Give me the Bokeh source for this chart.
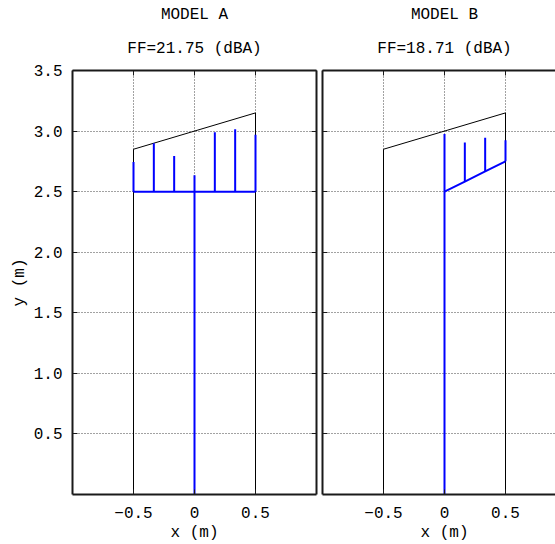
from bokeh.plotting import figure
from bokeh.models import FixedTicker, LinearAxis, Range1d, CustomLabelingPolicy
from bokeh.layouts import row
from bokeh.embed import file_html
from bokeh.resources import INLINE

# ---------------- data ----------------
panel_titles = ["MODEL A", "MODEL B"]
ff_values = [21.75, 18.71]

x_ticks = [-0.5, 0.0, 0.5]
x_tick_labels = ["\u22120.5", "0", "0.5"]
y_ticks = [0.5, 1.0, 1.5, 2.0, 2.5, 3.0, 3.5]
y_tick_labels = ["0.5", "1.0", "1.5", "2.0", "2.5", "3.0", "3.5"]

# room outline (walls + sloped roof)
wall_x = [-0.5, -0.5, 0.5, 0.5]
wall_y = [0.0, 2.85, 3.15, 0.0]

# supporting pole
pole_x = [0.0, 0.0]
pole_y = [0.0, 2.5]

# model A: flat array
a_x = [-0.5, -1 / 3, -1 / 6, 0.0, 1 / 6, 1 / 3, 0.5]
a_base = [2.5, 2.5, 2.5, 2.5, 2.5, 2.5, 2.5]
a_top = [2.745, 2.90, 2.795, 2.635, 2.99, 3.015, 2.97]

# model B: inclined array
b_x = [0.0, 1 / 6, 1 / 3, 0.5]
b_base = [2.5, 2.583, 2.667, 2.75]
b_top = [2.975, 2.905, 2.945, 2.925]

X_MIN, X_MAX = -1.0, 1.0
Y_MIN, Y_MAX = 0.0, 3.5
X_CENTRE = 0.0

FONT = "Liberation Mono"
FS = "16px"
BLUE = "#0000ff"
AXC = "#1a1a1a"

PAGE_W = 555
H = 544
FULL_FRAME_W = 244
LEFT = 72
TOP = 70
BOTTOM = 50
GAP = 3

hide_all = CustomLabelingPolicy(code="return new indices.constructor(indices.size, 0)")


def style_axis(ax, show_labels, ticks):
    ax.ticker = FixedTicker(ticks=ticks)
    ax.axis_line_width = 2
    ax.axis_line_color = AXC
    ax.major_tick_in = 5
    ax.major_tick_out = 0
    ax.minor_tick_in = 0
    ax.minor_tick_out = 0
    ax.major_tick_line_color = AXC
    ax.major_tick_line_width = 1
    ax.major_label_text_font = FONT
    ax.major_label_text_color = "black"
    ax.axis_label_text_font = FONT
    ax.axis_label_text_font_size = FS
    ax.axis_label_text_font_style = "normal"
    ax.axis_label_text_color = "black"
    if show_labels:
        ax.major_label_text_font_size = FS
    else:
        ax.major_label_text_font_size = "1px"
        ax.major_label_standoff = 0
        ax.major_label_overrides = {t: "" for t in ticks}
        ax.major_label_policy = hide_all


def text_axis(txt, standoff):
    # an axis without line/ticks that carries one centred text at x = 0
    ax = LinearAxis(ticker=FixedTicker(ticks=[X_CENTRE]))
    ax.axis_line_color = None
    ax.major_tick_line_color = None
    ax.minor_tick_line_color = None
    ax.major_tick_in = 0
    ax.major_tick_out = 0
    ax.minor_tick_in = 0
    ax.minor_tick_out = 0
    ax.major_label_overrides = {X_CENTRE: txt}
    ax.major_label_standoff = standoff
    ax.major_label_text_font = FONT
    ax.major_label_text_font_size = FS
    ax.major_label_text_color = "black"
    return ax


def make_panel(idx, xs, base, top, frame_w):
    first = idx == 0
    left_b = LEFT if first else GAP
    right_b = GAP if first else 0
    x_end = X_MIN + (X_MAX - X_MIN) * frame_w / FULL_FRAME_W
    p = figure(width=left_b + frame_w + right_b, height=H,
               x_range=Range1d(X_MIN, x_end), y_range=Range1d(Y_MIN, Y_MAX),
               output_backend="svg", toolbar_location=None,
               min_border_left=left_b, min_border_right=right_b,
               min_border_top=TOP, min_border_bottom=BOTTOM)
    p.outline_line_color = None
    p.background_fill_color = "white"
    p.border_fill_color = "white"
    p.title.visible = False

    style_axis(p.xaxis[0], True, x_ticks)
    p.xaxis.major_label_overrides = {t: l for t, l in zip(x_ticks, x_tick_labels)}
    p.xaxis.major_label_standoff = 12
    style_axis(p.yaxis[0], first, y_ticks)
    if first:
        p.yaxis.major_label_overrides = {t: l for t, l in zip(y_ticks, y_tick_labels)}
        p.yaxis.axis_label = "y (m)"
        p.yaxis.major_label_standoff = 10
        p.yaxis.axis_label_standoff = 2

    top_ax = LinearAxis()
    style_axis(top_ax, False, x_ticks)
    p.add_layout(top_ax, "above")
    if first:
        right_ax = LinearAxis()
        style_axis(right_ax, False, y_ticks)
        p.add_layout(right_ax, "right")

    # panel headings (stacked outward from the frame) and x-axis title
    p.add_layout(text_axis("FF=%.2f (dBA)" % ff_values[idx], 13), "above")
    p.add_layout(text_axis(panel_titles[idx], 13), "above")
    p.add_layout(text_axis("x (m)", 3), "below")

    for g in (p.xgrid[0], p.ygrid[0]):
        g.grid_line_color = "#444444"
        g.grid_line_dash = "1 2"
        g.grid_line_width = 1
    p.xgrid.ticker = FixedTicker(ticks=x_ticks)
    p.ygrid.ticker = FixedTicker(ticks=y_ticks)

    # room outline
    p.line(wall_x, wall_y, line_color="black", line_width=1)
    # pole
    p.line(pole_x, pole_y, line_color=BLUE, line_width=2)
    # array base
    p.line(xs, base, line_color=BLUE, line_width=2)
    # stems
    p.segment(x0=xs, y0=base, x1=xs, y1=top, line_color=BLUE, line_width=2)
    return p


p1 = make_panel(0, a_x, a_base, a_top, FULL_FRAME_W)
rw = PAGE_W - (LEFT + FULL_FRAME_W + GAP) - GAP
p2 = make_panel(1, b_x, b_base, b_top, rw)

layout = row(p1, p2)
open("out.html", "w").write(file_html(layout, INLINE))
